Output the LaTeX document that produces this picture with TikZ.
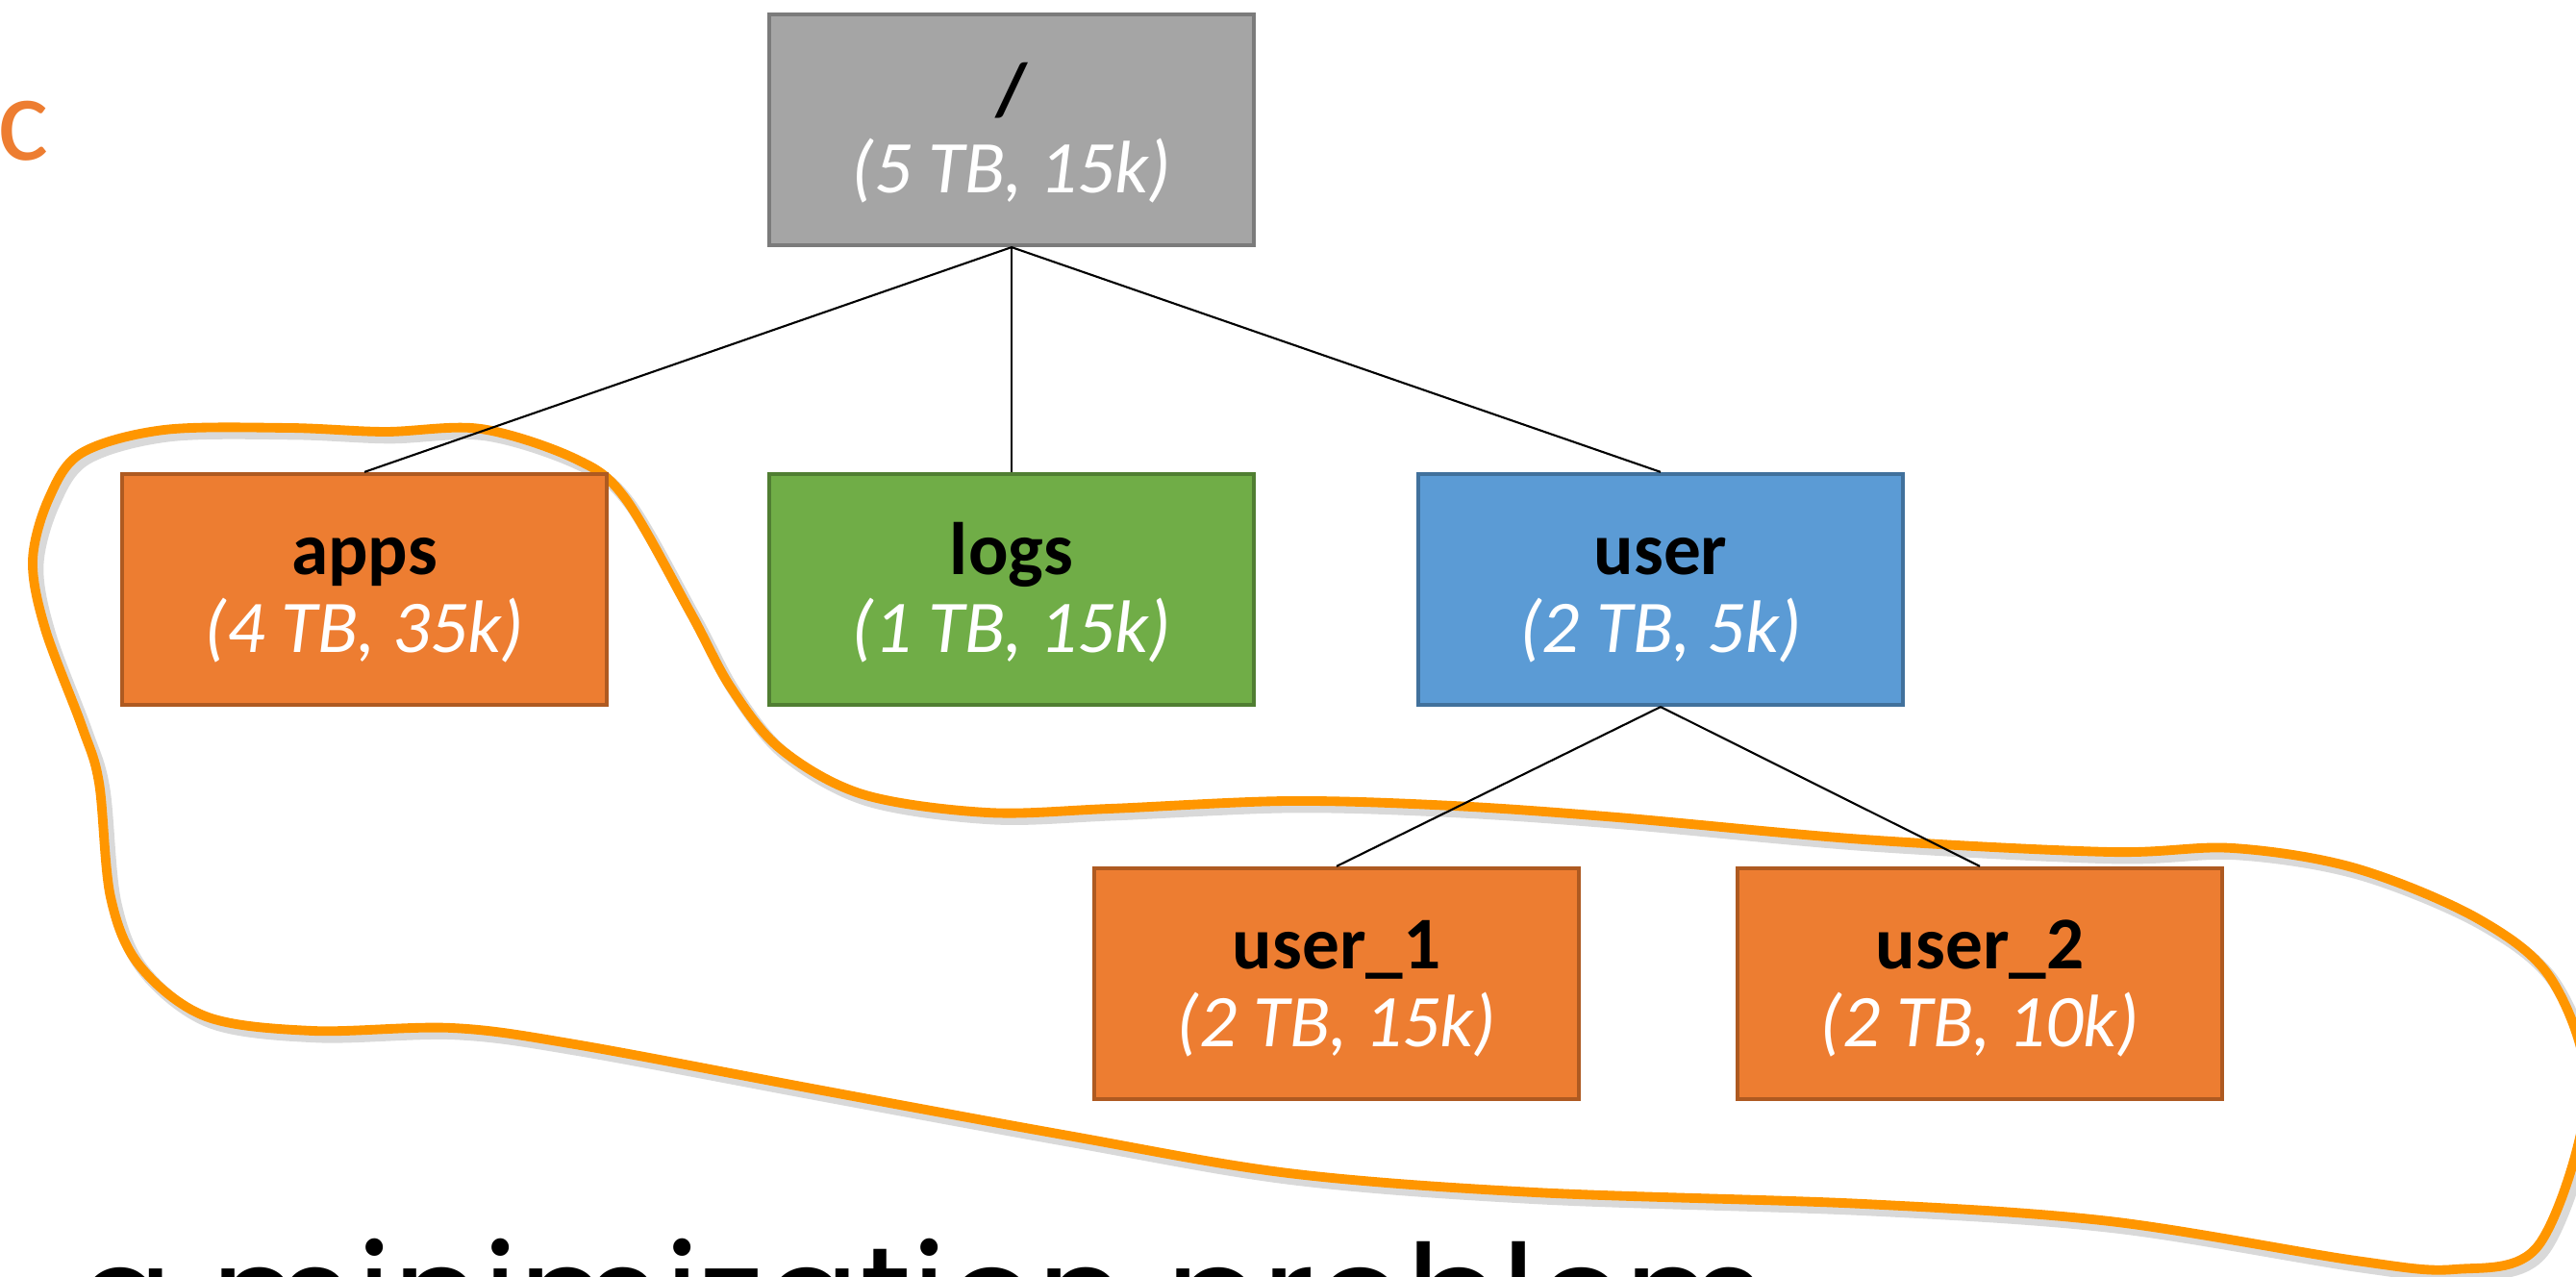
\documentclass[tikz,border=0pt]{standalone}
\usepackage{fontspec}
\setmainfont{Carlito}
\newfontfamily\geofont{Poppins}
\usepackage{xcolor}
\usetikzlibrary{calc}
\usetikzlibrary{positioning}

\definecolor{rootfill}{HTML}{A5A5A5}
\definecolor{rootline}{HTML}{7B7B7B}
\definecolor{orfill}{HTML}{ED7D31}
\definecolor{orline}{HTML}{AE5A21}
\definecolor{grfill}{HTML}{70AD47}
\definecolor{grline}{HTML}{507E32}
\definecolor{blfill}{HTML}{5B9BD5}
\definecolor{blline}{HTML}{41719C}
\definecolor{hilite}{HTML}{FF9600}

\tikzstyle{dir} = [rectangle, line width=1.2pt, minimum width=5.04cm, minimum height=2.4cm, inner sep=0, align=center, font=\fontsize{22}{23}\selectfont]
\tikzstyle{edge} = [-, draw=black, line width=0.6pt]
\tikzstyle{blob} = [draw=hilite, line width=2.8pt, line join=round, preaction={draw=black, opacity=0.15, line width=3.6pt, transform canvas={shift={(0.05,-0.06)}}}]

\newcommand{\dirlabel}[2]{\rule{0pt}{21pt}\textbf{#1}\\\textcolor{white}{\itshape(#2)}\rule[-7pt]{0pt}{7pt}}

\begin{document}
\begin{tikzpicture}
\useasboundingbox (0,0) rectangle (26.79,13.28);
\node [anchor=base west, inner sep=0, text=orfill, font=\fontsize{36}{36}\selectfont] (head) at (-0.03, 11.61) {c};

% selected subtrees
\draw [blob] plot [smooth cycle, tension=0.55] coordinates {
  (0.85,8.57) (1.71,8.81) (3.00,8.83) (4.00,8.79) (5.00,8.82) (5.98,8.51)
  (6.50,8.10) (7.18,6.91) (7.60,6.13) (8.12,5.49) (8.97,5.02) (10.26,4.83)
  (11.54,4.87) (13.40,4.95) (15.11,4.90) (16.82,4.78) (19.38,4.55) (21.94,4.42)
  (23.22,4.46) (24.50,4.25) (25.78,3.72) (26.55,3.07) (26.90,1.88) (26.40,0.33)
  (25.53,0.08) (24.50,0.17) (21.94,0.58) (19.38,0.76) (15.96,0.88) (13.40,1.08)
  (11.11,1.47) (8.55,1.94) (5.98,2.42) (4.70,2.59) (3.25,2.56) (2.14,2.71)
  (1.45,3.24) (1.15,3.95) (1.03,5.14) (0.85,5.73) (0.47,6.74) (0.34,7.45)
  (0.51,8.10)};

\node [dir, draw=rootline, fill=rootfill] (root) at (10.52, 11.93) {\dirlabel{/}{5 TB, 15k}};
\node [dir, draw=orline, fill=orfill] (apps) at (3.79, 7.15) {\dirlabel{apps}{4 TB, 35k}};
\node [dir, draw=grline, fill=grfill] (logs) at (10.52, 7.15) {\dirlabel{logs}{1 TB, 15k}};
\node [dir, draw=blline, fill=blfill] (user) at (17.27, 7.15) {\dirlabel{user}{2 TB, 5k}};
\node [dir, draw=orline, fill=orfill] (user1) at (13.90, 3.05) {\dirlabel{user\_1}{2 TB, 15k}};
\node [dir, draw=orline, fill=orfill] (user2) at (20.59, 3.05) {\dirlabel{user\_2}{2 TB, 10k}};

\draw [edge] (root.south) -- (apps.north);
\draw [edge] (root.south) -- (logs.north);
\draw [edge] (root.south) -- (user.north);
\draw [edge] (user.south) -- (user1.north);
\draw [edge] (user.south) -- (user2.north);

\node [anchor=base west, inner sep=0, font=\geofont\fontsize{42}{42}\selectfont] (tagline) at (0.80,-0.72) {a minimization problem};
\end{tikzpicture}
\end{document}
